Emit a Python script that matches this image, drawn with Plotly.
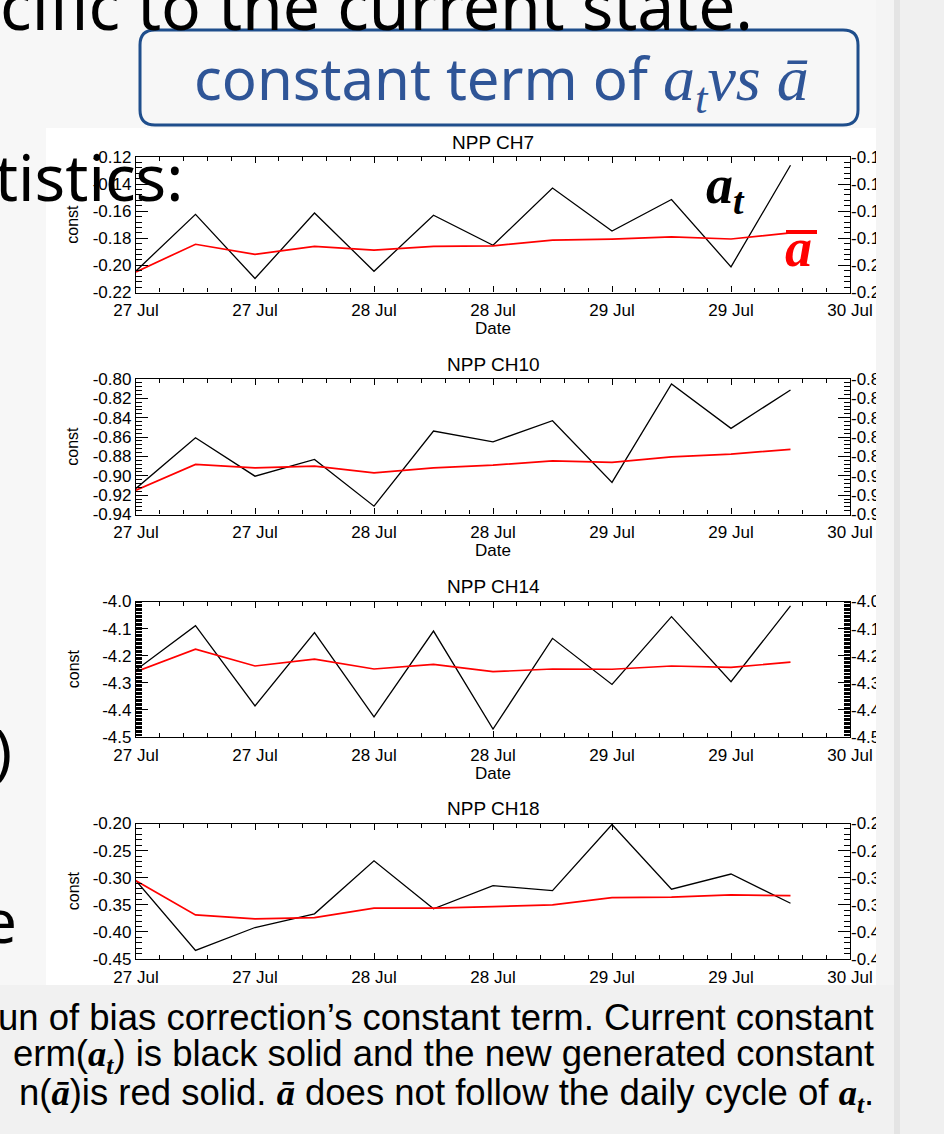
import plotly.graph_objects as go

W, H = 944, 1134

# ---------------- data ----------------
times = ["2012-07-27 00:00", "2012-07-27 06:00", "2012-07-27 12:00", "2012-07-27 18:00",
         "2012-07-28 00:00", "2012-07-28 06:00", "2012-07-28 12:00", "2012-07-28 18:00",
         "2012-07-29 00:00", "2012-07-29 06:00", "2012-07-29 12:00", "2012-07-29 18:00"]
x_tickvals = ["2012-07-27 00:00", "2012-07-27 12:00", "2012-07-28 00:00", "2012-07-28 12:00",
              "2012-07-29 00:00", "2012-07-29 12:00", "2012-07-30 00:00"]
x_ticklabels = ["27 Jul", "27 Jul", "28 Jul", "28 Jul", "29 Jul", "29 Jul", "30 Jul"]

channels = ["NPP CH7", "NPP CH10", "NPP CH14", "NPP CH18"]

ch7_at = [-0.2041, -0.1623, -0.2097, -0.1613, -0.2043, -0.1630,
          -0.1851, -0.1429, -0.1746, -0.1514, -0.2011, -0.1261]
ch7_abar = [-0.2048, -0.1844, -0.1918, -0.1859, -0.1888, -0.1859,
            -0.1856, -0.1813, -0.1806, -0.1790, -0.1805, -0.1760]
ch7_yticks = [-0.22, -0.20, -0.18, -0.16, -0.14, -0.12]
ch7_ylabels = ["-0.22", "-0.20", "-0.18", "-0.16", "-0.14", "-0.12"]

ch10_at = [-0.9131, -0.8607, -0.9004, -0.8831, -0.9314, -0.8538,
           -0.8649, -0.8431, -0.9069, -0.8052, -0.8510, -0.8114]
ch10_abar = [-0.9149, -0.8883, -0.8918, -0.8900, -0.8969, -0.8918,
             -0.8890, -0.8845, -0.8862, -0.8804, -0.8776, -0.8727]
ch10_yticks = [-0.94, -0.92, -0.90, -0.88, -0.86, -0.84, -0.82, -0.80]
ch10_ylabels = ["-0.94", "-0.92", "-0.90", "-0.88", "-0.86", "-0.84", "-0.82", "-0.80"]

ch14_at = [-4.253, -4.089, -4.385, -4.115, -4.426, -4.109,
           -4.471, -4.136, -4.306, -4.056, -4.296, -4.016]
ch14_abar = [-4.259, -4.176, -4.238, -4.213, -4.249, -4.232,
             -4.259, -4.249, -4.250, -4.238, -4.243, -4.224]
ch14_yticks = [-4.5, -4.4, -4.3, -4.2, -4.1, -4.0]
ch14_ylabels = ["-4.5", "-4.4", "-4.3", "-4.2", "-4.1", "-4.0"]

ch18_at = [-0.3055, -0.4342, -0.3919, -0.3667, -0.2687, -0.3575,
           -0.3147, -0.3239, -0.2018, -0.3213, -0.2932, -0.3471]
ch18_abar = [-0.3055, -0.3686, -0.3759, -0.3735, -0.3563, -0.3563,
             -0.3533, -0.3502, -0.3368, -0.3360, -0.3318, -0.3331]
ch18_yticks = [-0.45, -0.40, -0.35, -0.30, -0.25, -0.20]
ch18_ylabels = ["-0.45", "-0.40", "-0.35", "-0.30", "-0.25", "-0.20"]

at_series = [ch7_at, ch10_at, ch14_at, ch18_at]
abar_series = [ch7_abar, ch10_abar, ch14_abar, ch18_abar]
y_tickvals = [ch7_yticks, ch10_yticks, ch14_yticks, ch18_yticks]
y_ticklabels = [ch7_ylabels, ch10_ylabels, ch14_ylabels, ch18_ylabels]
y_minor = [0.004, 0.004, 0.005, 0.01]

# ---------------- layout geometry (pixels) ----------------
PL, PR = 136, 850
tops = [157, 379, 601.5, 823.5]
PH = 135.5


def X(px):
    return px / W


def Y(py):
    return 1 - py / H


TICKFONT = dict(family="Liberation Sans, Arial, sans-serif", size=17, color="black")

fig = go.Figure()
layout = dict(
    width=W, height=H, margin=dict(l=0, r=0, t=0, b=0, autoexpand=False),
    paper_bgcolor="#f7f7f7", plot_bgcolor="white", showlegend=False,
)

annotations = []
shapes = []

for i in range(4):
    k = i + 1
    xs = "" if k == 1 else str(k)
    ys = "" if k == 1 else str(k)
    r = str(k + 4)
    top = tops[i]
    bot = top + PH
    yr = [y_tickvals[i][0], y_tickvals[i][-1]]

    fig.add_trace(go.Scatter(x=times, y=at_series[i], mode="lines",
                             line=dict(color="black", width=1.3), hoverinfo="skip",
                             xaxis="x" + xs, yaxis="y" + ys))
    fig.add_trace(go.Scatter(x=times, y=abar_series[i], mode="lines",
                             line=dict(color="#ff0000", width=1.7), hoverinfo="skip",
                             xaxis="x" + xs, yaxis="y" + ys))
    # invisible trace so that the right-hand axis gets drawn
    fig.add_trace(go.Scatter(x=times, y=abar_series[i], mode="lines", opacity=0,
                             line=dict(color="rgba(0,0,0,0)", width=0), hoverinfo="skip",
                             xaxis="x" + xs, yaxis="y" + r))

    layout["xaxis" + xs] = dict(
        domain=[X(PL), X(PR)], anchor="y" + ys, type="date",
        range=[x_tickvals[0], x_tickvals[-1]],
        tickmode="array", tickvals=x_tickvals, ticktext=x_ticklabels,
        ticks="inside", ticklen=6, tickcolor="black", tickwidth=1,
        minor=dict(ticks="inside", ticklen=4, dtick=8640000, tick0=x_tickvals[0],
                   tickcolor="black", tickwidth=1, showgrid=False),
        mirror="ticks", showline=True, linecolor="black", linewidth=1.3,
        showgrid=False, zeroline=False, tickfont=TICKFONT, fixedrange=True,
        automargin=False, ticklabelstandoff=2,
    )
    layout["yaxis" + ys] = dict(
        domain=[Y(bot), Y(top)], anchor="x" + xs, range=yr,
        tickmode="array", tickvals=y_tickvals[i], ticktext=y_ticklabels[i],
        ticks="inside", ticklen=12, tickcolor="black", tickwidth=1,
        minor=dict(ticks="inside", ticklen=6, dtick=y_minor[i], tick0=0,
                   tickcolor="black", tickwidth=1, showgrid=False),
        mirror="ticks", showline=True, linecolor="black", linewidth=1.3,
        showgrid=False, zeroline=False, tickfont=TICKFONT, fixedrange=True,
        automargin=False,
    )
    layout["yaxis" + r] = dict(
        overlaying="y" + ys, side="right", anchor="x" + xs, range=yr,
        tickmode="array", tickvals=y_tickvals[i], ticktext=y_ticklabels[i],
        ticks="", showline=False, showgrid=False, zeroline=False,
        tickfont=TICKFONT, fixedrange=True, automargin=False,
    )

    annotations.append(dict(text=channels[i], x=X((PL + PR) / 2), y=Y(top - 15),
                            xref="paper", yref="paper", showarrow=False,
                            xanchor="center", yanchor="middle",
                            font=dict(family="Liberation Sans, Arial", size=19, color="black")))
    annotations.append(dict(text="const", x=X(73), y=Y(top + PH / 2),
                            xref="paper", yref="paper", showarrow=False, textangle=-90,
                            xanchor="center", yanchor="middle",
                            font=dict(family="Liberation Sans, Arial", size=16, color="black")))
    if k < 4:
        annotations.append(dict(text="Date", x=X((PL + PR) / 2), y=Y(bot + 36),
                                xref="paper", yref="paper", showarrow=False,
                                xanchor="center", yanchor="middle",
                                font=dict(family="Liberation Sans, Arial", size=17, color="black")))

# ---------------- background shapes ----------------
shapes.append(dict(type="rect", xref="paper", yref="paper", layer="below",
                   x0=X(46), x1=X(876), y0=Y(985), y1=Y(128),
                   fillcolor="white", line=dict(width=0)))
shapes.append(dict(type="rect", xref="paper", yref="paper", layer="above",
                   x0=X(0), x1=X(900), y0=Y(1134), y1=Y(985),
                   fillcolor="#f1f1f1", line=dict(width=0)))
shapes.append(dict(type="rect", xref="paper", yref="paper", layer="above",
                   x0=X(876), x1=X(894), y0=Y(985), y1=Y(0),
                   fillcolor="#f4f4f4", line=dict(width=0)))
shapes.append(dict(type="rect", xref="paper", yref="paper", layer="above",
                   x0=X(894), x1=X(900), y0=Y(1134), y1=Y(0),
                   fillcolor="#e4e4e4", line=dict(width=0)))
shapes.append(dict(type="rect", xref="paper", yref="paper", layer="above",
                   x0=X(900), x1=X(944), y0=Y(1134), y1=Y(0),
                   fillcolor="#f0f0f0", line=dict(width=0)))


def rrect_path(x0, y0, x1, y1, rad):
    pts = [
        ("M", [(x0 + rad, y0)]), ("L", [(x1 - rad, y0)]), ("Q", [(x1, y0), (x1, y0 + rad)]),
        ("L", [(x1, y1 - rad)]), ("Q", [(x1, y1), (x1 - rad, y1)]),
        ("L", [(x0 + rad, y1)]), ("Q", [(x0, y1), (x0, y1 - rad)]),
        ("L", [(x0, y0 + rad)]), ("Q", [(x0, y0), (x0 + rad, y0)]),
    ]
    s = ""
    for cmd, ps in pts:
        s += cmd + " " + " ".join(f"{X(a):.5f},{Y(b):.5f}" for a, b in ps) + " "
    return s + "Z"


shapes.append(dict(type="path", xref="paper", yref="paper", layer="above",
                   path=rrect_path(140, 30, 858, 125, 15),
                   fillcolor="#f7f7f7", line=dict(color="#1f4e8c", width=3)))
shapes.append(dict(type="line", xref="paper", yref="paper", layer="above",
                   x0=X(786), x1=X(817), y0=Y(232), y1=Y(232),
                   line=dict(color="#ff0000", width=4)))

# ---------------- slide texts ----------------
SLIDE_FONT = "Noto Sans, Open Sans, sans-serif"
MATH = "Liberation Serif, DejaVu Serif, serif"

annotations.append(dict(text="cific to the current state.", x=X(-2), y=Y(4),
                        xref="paper", yref="paper", showarrow=False,
                        xanchor="left", yanchor="middle",
                        font=dict(family=SLIDE_FONT, size=66, color="black")))

box_text = ("constant term of "
            f"<span style='font-family:{MATH};font-size:64px'><i>a</i><sub><i>t</i></sub><i>vs</i> <i>a\u0304</i></span>")
annotations.append(dict(text=box_text, x=X(501), y=Y(81),
                        xref="paper", yref="paper", showarrow=False,
                        xanchor="center", yanchor="middle",
                        font=dict(family=SLIDE_FONT, size=58, color="#2f5597")))

annotations.append(dict(text="tistics:", x=X(185), y=Y(176),
                        xref="paper", yref="paper", showarrow=False,
                        xanchor="right", yanchor="middle",
                        font=dict(family=SLIDE_FONT, size=64, color="black")))
annotations.append(dict(text=")", x=X(14), y=Y(750),
                        xref="paper", yref="paper", showarrow=False,
                        xanchor="right", yanchor="middle",
                        font=dict(family=SLIDE_FONT, size=60, color="black")))
annotations.append(dict(text="e", x=X(19), y=Y(920),
                        xref="paper", yref="paper", showarrow=False,
                        xanchor="right", yanchor="middle",
                        font=dict(family=SLIDE_FONT, size=60, color="black")))

annotations.append(dict(text="<b><i>a</i></b><sub><b><i>t</i></b></sub>", x=X(704), y=Y(188),
                        xref="paper", yref="paper", showarrow=False,
                        xanchor="left", yanchor="middle",
                        font=dict(family=MATH, size=54, color="black")))
annotations.append(dict(text="<b><i>a</i></b>", x=X(783), y=Y(248),
                        xref="paper", yref="paper", showarrow=False,
                        xanchor="left", yanchor="middle",
                        font=dict(family=MATH, size=54, color="#ff0000")))

CAP = "Liberation Sans, Arial, sans-serif"
AT = "<b><i>a</i></b><sub><b><i>t</i></b></sub>"
AB = "<b><i>a\u0304</i></b>"
cap_lines = [
    "un of bias correction\u2019s constant term. Current constant",
    f"erm(<span style='font-family:{MATH}'>{AT}</span>) is black solid and the new generated constant",
    f"n(<span style='font-family:{MATH}'>{AB}</span>)is red solid. <span style='font-family:{MATH}'>{AB}</span> does not follow the daily cycle of <span style='font-family:{MATH}'>{AT}</span>.",
]
for j, line in enumerate(cap_lines):
    annotations.append(dict(text=line, x=X(876), y=Y(1017 + 39 * j),
                            xref="paper", yref="paper", showarrow=False,
                            xanchor="right", yanchor="middle",
                            font=dict(family=CAP, size=36.5, color="black")))

layout["annotations"] = annotations
layout["shapes"] = shapes
fig.update_layout(**layout)

fig.write_html("out.html")
